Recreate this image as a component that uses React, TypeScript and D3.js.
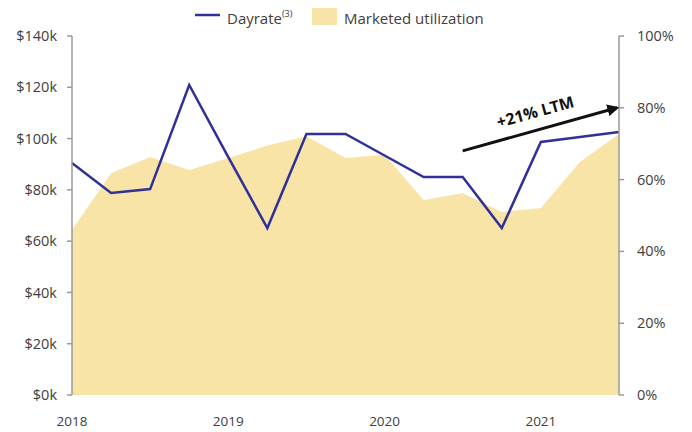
import * as d3 from "d3";

const quarters = [
  "2018Q1", "2018Q2", "2018Q3", "2018Q4",
  "2019Q1", "2019Q2", "2019Q3", "2019Q4",
  "2020Q1", "2020Q2", "2020Q3", "2020Q4",
  "2021Q1", "2021Q2", "2021Q3",
];
// dayrate in $k
const dayrate = [90.5, 78.8, 80.3, 120.9, 92.8, 65.1, 101.8, 101.8, 93.4, 85, 85, 65.1, 98.7, 100.6, 102.6];
// marketed utilization in %
const utilization = [46, 61.8, 66.3, 62.7, 66, 69.5, 72.1, 66, 66.9, 54.3, 56.3, 51, 52.1, 64.9, 72.7];

const yearLabels = ["2018", "2019", "2020", "2021"];
const leftTicks = [0, 20, 40, 60, 80, 100, 120, 140];
const rightTicks = [0, 20, 40, 60, 80, 100];

// annotation arrow: from 2020Q3 to 2021Q3, in $k
const ltmArrow = { from: 10, to: 14, fromVal: 95.2, toVal: 112 };

const width = 692;
const height = 432;
const margin = { top: 36, right: 73, bottom: 37, left: 72 };

const font = "'Open Sans', 'Liberation Sans', sans-serif";
const textColor = "#404040";
const axisColor = "#9a9a9a";
const lineColor = "#30309a";
const areaColor = "#f9e4a8";

export default function App() {
  const x = d3
    .scaleLinear()
    .domain([0, quarters.length - 1])
    .range([margin.left, width - margin.right]);
  const yL = d3
    .scaleLinear()
    .domain([0, 140])
    .range([height - margin.bottom, margin.top]);
  const yR = d3
    .scaleLinear()
    .domain([0, 100])
    .range([height - margin.bottom, margin.top]);

  const area = d3
    .area<number>()
    .x((_, i) => x(i))
    .y0(yR(0))
    .y1((d) => yR(d));
  const line = d3
    .line<number>()
    .x((_, i) => x(i))
    .y((d) => yL(d));

  const ax0 = x(ltmArrow.from);
  const ay0 = yL(ltmArrow.fromVal);
  const ax1 = x(ltmArrow.to);
  const ay1 = yL(ltmArrow.toVal);
  const angle = (Math.atan2(ay1 - ay0, ax1 - ax0) * 180) / Math.PI;
  const midX = (ax0 + ax1) / 2;
  const midY = (ay0 + ay1) / 2;

  return (
    <div style={{ position: "fixed", left: 0, top: 0 }}>
      <svg width={width} height={height} style={{ display: "block", background: "#fff" }}>
        <defs>
          <marker id="arrowHead" viewBox="0 0 10 10" refX="8" refY="5" markerWidth="4" markerHeight="4" orient="auto">
            <path d="M0,0 L10,5 L0,10 z" fill="#111" />
          </marker>
        </defs>

        {/* Legend */}
        <g fontFamily={font} fontSize={15} fill={textColor}>
          <line x1={195} x2={220} y1={15} y2={15} stroke={lineColor} strokeWidth={2.5} />
          <text x={227} y={24}>
            Dayrate
            <tspan fontSize={9} dy={-7}>(3)</tspan>
          </text>
          <rect x={312} y={8} width={25} height={17} fill={areaColor} />
          <text x={344} y={24}>Marketed utilization</text>
        </g>

        {/* Utilization area */}
        <path d={area(utilization) ?? ""} fill={areaColor} />

        {/* Dayrate line */}
        <path d={line(dayrate) ?? ""} fill="none" stroke={lineColor} strokeWidth={2.5} strokeLinejoin="miter" />

        {/* Left axis */}
        <g fontFamily={font} fontSize={14.5} fill={textColor}>
          <line x1={margin.left} x2={margin.left} y1={yL(140)} y2={yL(0)} stroke={axisColor} strokeWidth={1.5} />
          {leftTicks.map((t) => (
            <g key={t}>
              <line x1={margin.left - 5} x2={margin.left} y1={yL(t)} y2={yL(t)} stroke={axisColor} strokeWidth={1.5} />
              <text x={margin.left - 15} y={yL(t)} dy="0.35em" textAnchor="end">
                {`$${t}k`}
              </text>
            </g>
          ))}
        </g>

        {/* Right axis */}
        <g fontFamily={font} fontSize={14.5} fill={textColor}>
          <line x1={width - margin.right} x2={width - margin.right} y1={yR(100)} y2={yR(0)} stroke={axisColor} strokeWidth={1.5} />
          {rightTicks.map((t) => (
            <g key={t}>
              <line x1={width - margin.right} x2={width - margin.right + 5} y1={yR(t)} y2={yR(t)} stroke={axisColor} strokeWidth={1.5} />
              <text x={width - margin.right + 18} y={yR(t)} dy="0.35em" textAnchor="start">
                {`${t}%`}
              </text>
            </g>
          ))}
        </g>

        {/* Year labels */}
        <g fontFamily={font} fontSize={13.5} fill={textColor}>
          {yearLabels.map((yr, i) => (
            <text key={yr} x={x(i * 4)} y={height - 6} textAnchor="middle">
              {yr}
            </text>
          ))}
        </g>

        {/* +21% LTM annotation */}
        <line x1={ax0} y1={ay0} x2={ax1 - 2} y2={ay1} stroke="#111" strokeWidth={3} markerEnd="url(#arrowHead)" />
        <text
          transform={`translate(${midX - 4},${midY - 12}) rotate(${angle})`}
          textAnchor="middle"
          fontFamily={font}
          fontSize={16}
          fontWeight="bold"
          fill="#111"
        >
          +21% LTM
        </text>
      </svg>
    </div>
  );
}
